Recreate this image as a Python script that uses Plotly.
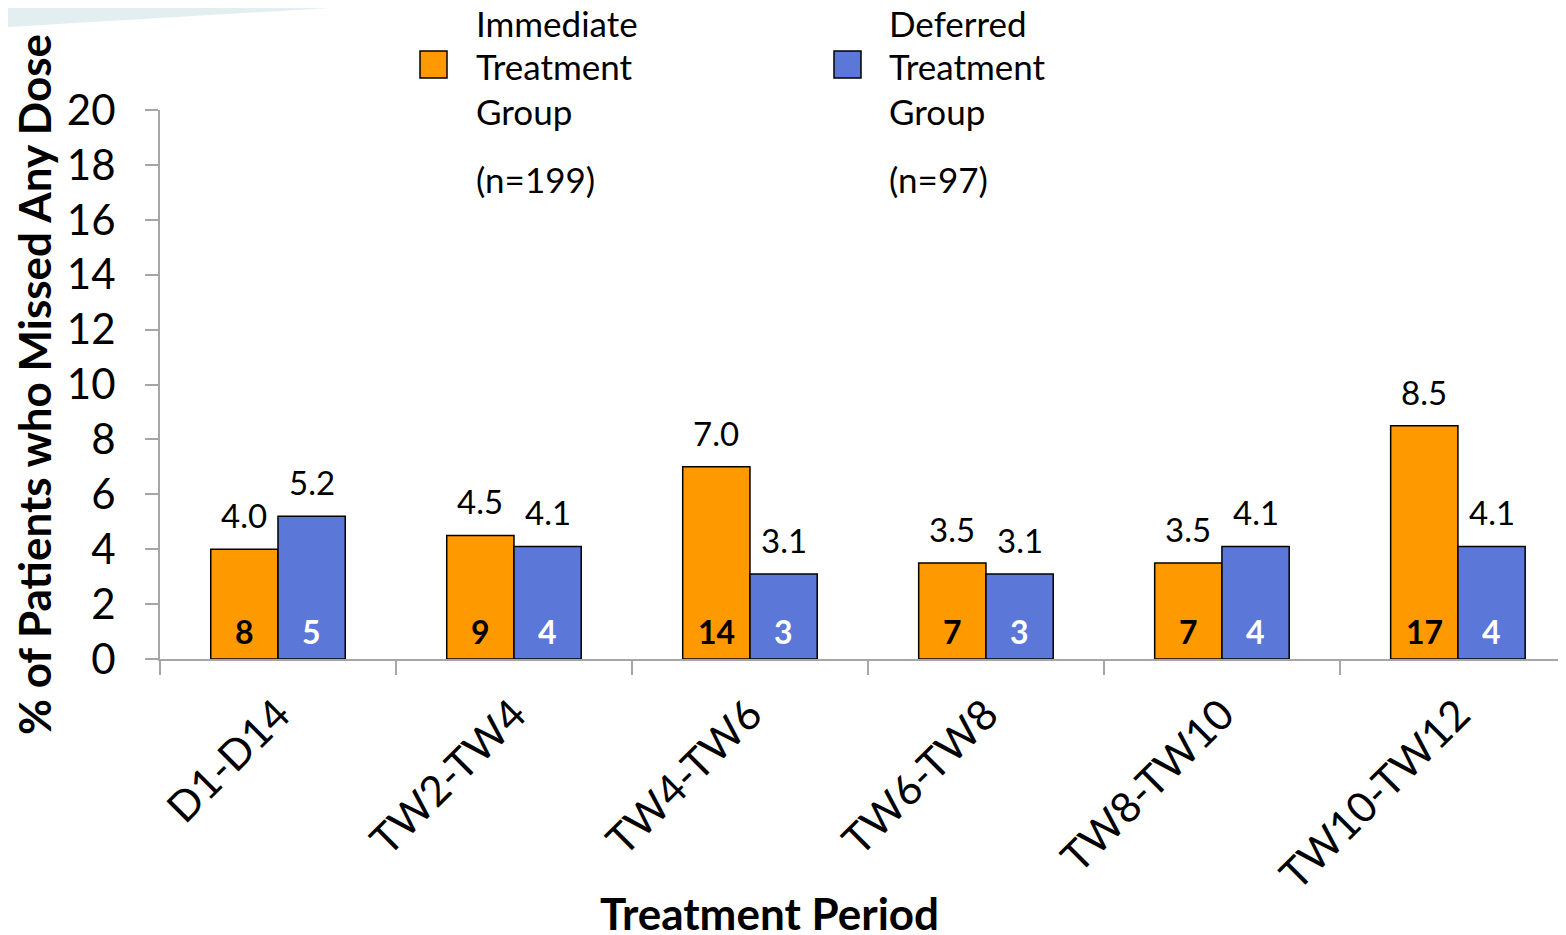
import plotly.graph_objects as go

categories = ["D1-D14", "TW2-TW4", "TW4-TW6", "TW6-TW8", "TW8-TW10", "TW10-TW12"]
immediate_pct = [4.0, 4.5, 7.0, 3.5, 3.5, 8.5]
deferred_pct = [5.2, 4.1, 3.1, 3.1, 4.1, 4.1]
immediate_n = [8, 9, 14, 7, 7, 17]
deferred_n = [5, 4, 3, 3, 4, 4]
y_ticks = [0, 2, 4, 6, 8, 10, 12, 14, 16, 18, 20]

ORANGE = "#FF9900"
BLUE = "#5B77D8"
FONT = "Lato"
AXIS_GRAY = "#A6A6A6"

OFF = 8  # page body margin
W, H = 1566 - OFF, 935 - OFF
# plot area in page pixels: x 160..1566+, y 110..659
ML, MT = 160 - OFF, 110 - OFF
MR, MB = 0, 935 - 659
PW, PH = W - ML - MR, H - MT - MB


def px_x(px):
    return (px - OFF - ML) / PW


def px_y(py):
    return (MT + PH - (py - OFF)) / PH


fig = go.Figure()
fig.add_trace(go.Bar(x=categories, y=immediate_pct, name="Immediate Treatment Group",
                     marker=dict(color=ORANGE, line=dict(color="black", width=1.5)),
                     showlegend=False, hoverinfo="skip"))
fig.add_trace(go.Bar(x=categories, y=deferred_pct, name="Deferred Treatment Group",
                     marker=dict(color=BLUE, line=dict(color="black", width=1.5)),
                     showlegend=False, hoverinfo="skip"))

ann = []
half = 33.6
for c, v, n in zip(categories, immediate_pct, immediate_n):
    ann.append(dict(x=c, y=v, xref="x", yref="y", text=f"{v:.1f}", showarrow=False,
                    xshift=-half, yanchor="bottom", yshift=12,
                    font=dict(family=FONT, size=33, color="black")))
    ann.append(dict(x=c, y=0, xref="x", yref="y", text=f"<b>{n}</b>", showarrow=False,
                    xshift=-half, yanchor="middle", yshift=28,
                    font=dict(family=FONT, size=32, color="black")))
for c, v, n in zip(categories, deferred_pct, deferred_n):
    ann.append(dict(x=c, y=v, xref="x", yref="y", text=f"{v:.1f}", showarrow=False,
                    xshift=half, yanchor="bottom", yshift=12,
                    font=dict(family=FONT, size=33, color="black")))
    ann.append(dict(x=c, y=0, xref="x", yref="y", text=f"<b>{n}</b>", showarrow=False,
                    xshift=half, yanchor="middle", yshift=28,
                    font=dict(family=FONT, size=32, color="white")))

# manual legend
legend_items = [
    (420, 475, ORANGE, ["Immediate", "Treatment", "Group", "(n=199)"]),
    (834, 888, BLUE, ["Deferred", "Treatment", "Group", "(n=97)"]),
]
line_y = [23, 66, 111, 179]
shapes = [
    dict(type="path", xref="paper", yref="paper",
         path=f"M {px_x(OFF)},{px_y(OFF)} L {px_x(330)},{px_y(OFF)} L {px_x(OFF)},{px_y(27)} Z",
         fillcolor="#E2EEF0", line=dict(width=0), layer="below"),
]
for sx, tx, col, lines in legend_items:
    shapes.append(dict(type="rect", xref="paper", yref="paper",
                       x0=px_x(sx), x1=px_x(sx + 27), y0=px_y(78), y1=px_y(51),
                       fillcolor=col, line=dict(color="black", width=1.5)))
    for ly, t in zip(line_y, lines):
        ann.append(dict(x=px_x(tx), y=px_y(ly), xref="paper", yref="paper", text=t,
                        showarrow=False, xanchor="left", yanchor="middle", borderpad=0,
                        font=dict(family=FONT, size=35, color="black")))

# x axis title
ann.append(dict(x=px_x(769), y=px_y(913), xref="paper", yref="paper",
                text="<b>Treatment Period</b>", showarrow=False,
                xanchor="center", yanchor="middle", borderpad=0,
                font=dict(family=FONT, size=44, color="black")))

fig.update_layout(
    template="none",
    width=W, height=H,
    margin=dict(l=ML, r=MR, t=MT, b=MB, pad=0),
    paper_bgcolor="white", plot_bgcolor="white",
    barmode="group", bargap=0.43, bargroupgap=0,
    showlegend=False,
    annotations=ann, shapes=shapes,
    font=dict(family=FONT, color="black"),
)
fig.update_xaxes(
    type="category", range=[-0.5, 5.458], automargin=False,
    showline=True, linecolor=AXIS_GRAY, linewidth=2,
    ticks="outside", tickson="boundaries", ticklen=14, tickwidth=2, tickcolor=AXIS_GRAY,
    tickangle=-45, tickfont=dict(family=FONT, size=42, color="black"), ticklabelstandoff=12,
    showgrid=False, zeroline=False,
)
fig.update_yaxes(
    range=[0, 20], tickvals=y_ticks, automargin=False,
    showline=True, linecolor=AXIS_GRAY, linewidth=2,
    ticks="outside", ticklen=13, tickwidth=2, tickcolor=AXIS_GRAY,
    tickfont=dict(family=FONT, size=42, color="black"), ticklabelstandoff=21,
    showgrid=False, zeroline=False,
    title=dict(text="<b>% of Patients who Missed Any Dose</b>", standoff=26,
               font=dict(family=FONT, size=44, color="black")),
)

fig.write_html("out.html")
